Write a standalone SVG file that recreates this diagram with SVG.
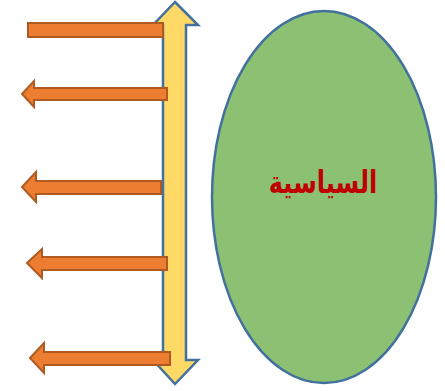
<svg xmlns="http://www.w3.org/2000/svg" width="445" height="391" viewBox="0 0 445 391">
<style>
.orange{fill:#ED7D31;stroke:#AE5A21;stroke-width:2;stroke-linejoin:miter}
.yellow{fill:#FFD966;stroke:#41719C;stroke-width:2.5}
.ell{fill:#8CC173;stroke:#41719C;stroke-width:2.5}
.lbl{font-family:"DejaVu Sans",sans-serif;font-weight:bold;font-size:24px;fill:#C00000}
</style>
<rect width="445" height="391" fill="#FFFFFF"/>
<g id="double-arrow">
<path class="yellow" d="M175,2 L198,25 H186 V360 H198 L175,384 L153,360 H163 V25 H153 Z"/>
</g>
<g id="connectors">
<path id="arrow1" class="orange" d="M28,23 H163 V37 H28 Z"/>
<path id="arrow2" class="orange" d="M22,94 L34,81 V88 H167 V100 H34 V107 Z"/>
<path id="arrow3" class="orange" d="M22,187 L36,172 V181 H161 V194 H36 V202 Z"/>
<path id="arrow4" class="orange" d="M27,263 L42,249 V257 H167 V270 H42 V278 Z"/>
<path id="arrow5" class="orange" d="M30,358 L44,343 V352 H170 V365 H44 V373 Z"/>
</g>
<g id="node-politics">
<ellipse class="ell" cx="324" cy="197" rx="112" ry="186"/>
<text class="lbl" x="323" y="193" text-anchor="middle" direction="rtl" transform="translate(0,193) scale(1,1.3) translate(0,-193)">السياسية</text>
</g>
</svg>
